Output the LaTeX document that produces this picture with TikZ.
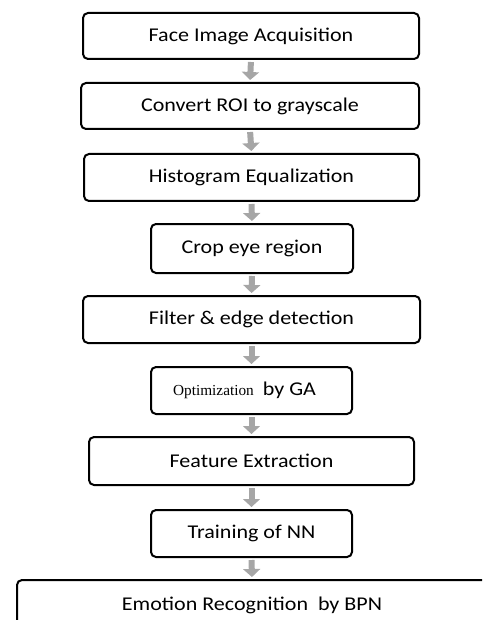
\documentclass[tikz,border=0pt]{standalone}
\usepackage{fontspec}
\setmainfont[FakeStretch=1.13]{Carlito}
\newfontfamily\serifopt{Liberation Serif}
\usetikzlibrary{arrows.meta}
\begin{document}
\begin{tikzpicture}[x=1pt,y=-1pt,
  stepbox/.style={draw=black,line width=2pt,rounded corners=5pt,fill=white,
    inner sep=0pt,font=\fontsize{19.5}{22}\selectfont,anchor=center},
  flowarrow/.style={draw=black!35,line width=6pt,shorten <=2pt,shorten >=2pt,
    -{Triangle[width=17pt,length=8pt]}}]
\useasboundingbox (0,0) rectangle (482,620);
\clip (0,0) rectangle (482,620);
\node[stepbox,minimum width=336pt,minimum height=46pt] (s1) at (251,36) {Face Image Acquisition};
\node[stepbox,minimum width=338pt,minimum height=46pt] (s2) at (250,106) {Convert ROI to grayscale};
\node[stepbox,minimum width=335pt,minimum height=47pt] (s3) at (251.5,177.5) {Histogram Equalization};
\node[stepbox,minimum width=202pt,minimum height=49pt] (s4) at (252,248.5) {Crop eye region};
\node[stepbox,minimum width=337pt,minimum height=47pt] (s5) at (251.5,319.5) {Filter \& edge detection};
\node[stepbox,minimum width=201pt,minimum height=47pt] (s6) at (251.5,390.5) {\hspace*{-14pt}{\serifopt\fontsize{15.3}{17}\selectfont Optimization}\hspace{9pt}by GA};
\node[stepbox,minimum width=325pt,minimum height=48pt] (s7) at (251.5,461) {Feature Extraction};
\node[stepbox,minimum width=201pt,minimum height=47pt] (s8) at (251.5,533.5) {Training of NN};
\node[stepbox,minimum width=470pt,minimum height=50pt] (s9) at (252,605) {Emotion Recognition\ \ by BPN};
\foreach \a/\b in {s1/s2,s2/s3,s3/s4,s4/s5,s5/s6,s6/s7,s7/s8,s8/s9}
  \draw[flowarrow] (\a.south) -- (\b.north);
\end{tikzpicture}
\end{document}
